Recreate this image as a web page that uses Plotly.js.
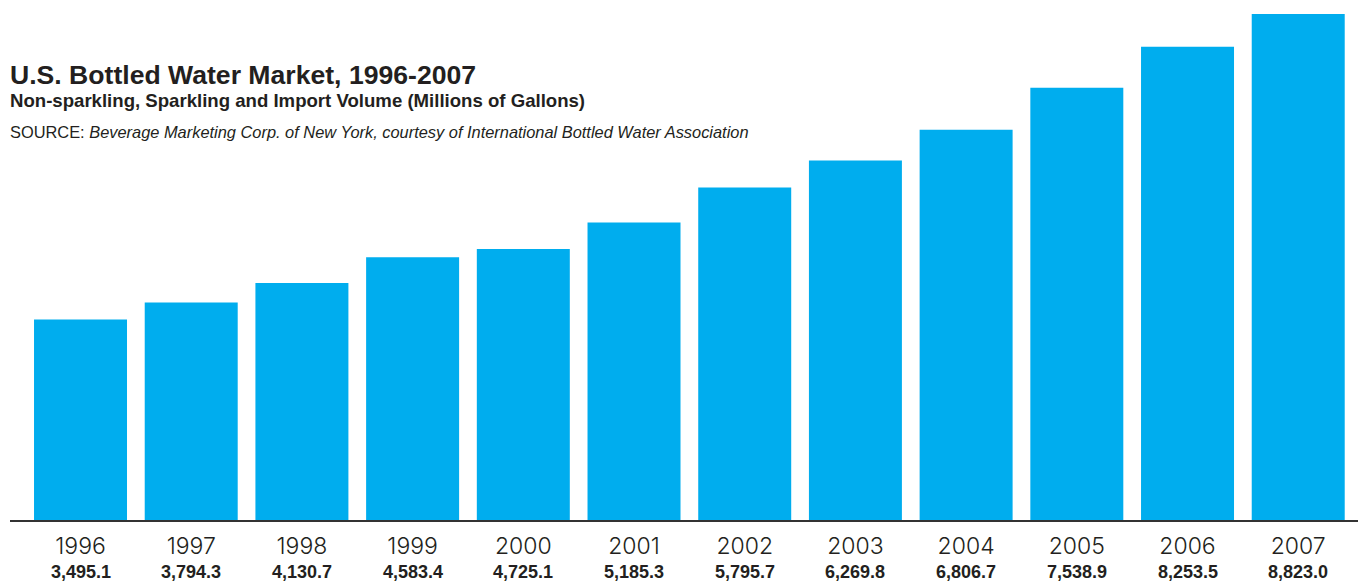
<!DOCTYPE html>
<html><head><meta charset="utf-8">
<script src="https://cdn.plot.ly/plotly-3.0.1.min.js"></script>
<style>html,body{margin:0;padding:0;background:#fff;}#chart{width:1358px;height:582px;}</style>
</head><body><div id="chart"></div>
<script>
const years = ["1996","1997","1998","1999","2000","2001","2002","2003","2004","2005","2006","2007"];
const volumes = [3495.1, 3794.3, 4130.7, 4583.4, 4725.1, 5185.3, 5795.7, 6269.8, 6806.7, 7538.9, 8253.5, 8823.0];
const titleText = "U.S. Bottled Water Market, 1996-2007";
const subtitleText = "Non-sparkling, Sparkling and Import Volume (Millions of Gallons)";
const sourceLabel = "SOURCE:";
const sourceText = "Beverage Marketing Corp. of New York, courtesy of International Bottled Water Association";

const fmt = v => v.toLocaleString("en-US", {minimumFractionDigits:1, maximumFractionDigits:1});
const H = 506; // plot height in px
const py = p => (520 - p) / H;
const px0 = -2 / 1348;

const annotations = [
  {text: "<b>"+titleText+"</b>", x:px0, y:py(75), xref:"paper", yref:"paper", xanchor:"left", yanchor:"middle", showarrow:false, font:{family:"Liberation Sans, Arial", size:26.6, color:"#231f20"}},
  {text: "<b>"+subtitleText+"</b>", x:px0, y:py(100), xref:"paper", yref:"paper", xanchor:"left", yanchor:"middle", showarrow:false, font:{family:"Liberation Sans, Arial", size:18.6, color:"#231f20"}},
  {text: sourceLabel+" <i>"+sourceText+"</i>", x:px0, y:py(132), xref:"paper", yref:"paper", xanchor:"left", yanchor:"middle", showarrow:false, font:{family:"Liberation Sans, Arial", size:16.4, color:"#231f20"}}
];
years.forEach((yr, i) => {
  annotations.push({text:"<b>"+fmt(volumes[i])+"</b>", x:i, y:py(572), xref:"x", yref:"paper", xanchor:"center", yanchor:"middle", showarrow:false, font:{family:"Liberation Sans, Arial", size:18, color:"#231f20"}});
});

const trace = {type:"bar", x:[...years.keys()], y:volumes, width:0.84, marker:{color:"#00adee", line:{width:0}}, hoverinfo:"skip"};

const layout = {
  width:1358, height:582,
  margin:{l:10, r:0, t:14, b:62, pad:0},
  paper_bgcolor:"#fff", plot_bgcolor:"#fff",
  showlegend:false,
  xaxis:{range:[-0.637, 11.54], tickvals:[...years.keys()], ticktext:years, showgrid:false, zeroline:false,
    showline:true, linecolor:"#333", linewidth:2, ticks:"", ticklabelstandoff:4,
    tickfont:{family:"Inter, Lato, sans-serif", size:23, color:"#231f20", weight:300}},
  yaxis:{range:[0, 8823], showgrid:false, zeroline:false, showticklabels:false, showline:false, ticks:""},
  annotations: annotations
};
Plotly.newPlot("chart", [trace], layout, {displayModeBar:false, staticPlot:true});
</script></body></html>
